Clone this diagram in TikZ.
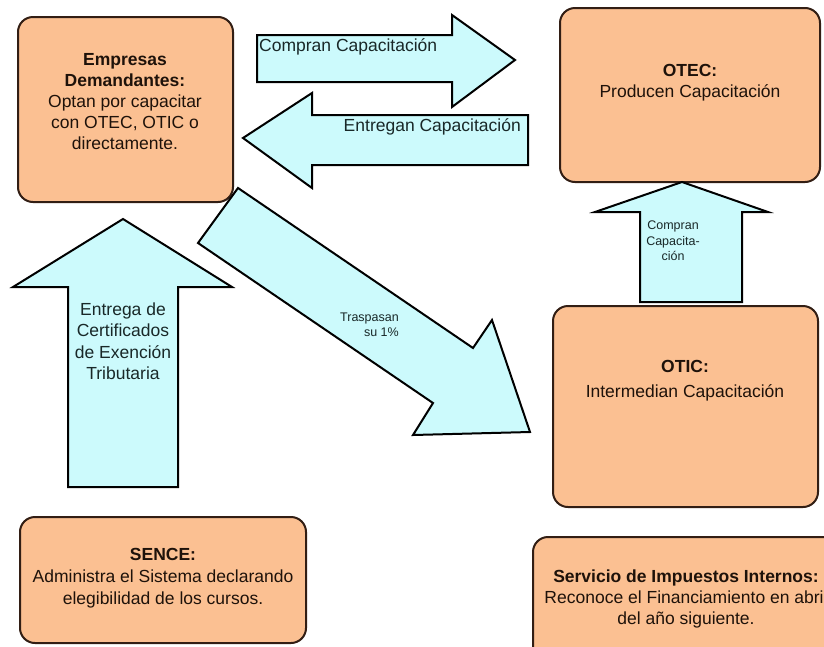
\documentclass[tikz,border=0pt]{standalone}
\usepackage{fontspec}
\setmainfont{Liberation Sans}
\definecolor{boxfill}{RGB}{251,192,146}
\definecolor{boxline}{RGB}{50,30,20}
\definecolor{arrfill}{RGB}{204,250,252}
\definecolor{boxtext}{RGB}{30,18,10}
\definecolor{arrtext}{RGB}{25,40,40}
\tikzset{
  orgbox/.style={draw=boxline, fill=boxfill, line width=2pt, rounded corners=15pt},
  blockarrow/.style={draw=black, fill=arrfill, line width=2pt, line join=miter},
  boxlabel/.style={align=center, text=boxtext, font=\fontsize{17.5}{21}\selectfont, inner sep=0pt},
  arrlabel/.style={text=arrtext, font=\fontsize{17.5}{21.5}\selectfont, inner sep=0pt},
  smalllabel/.style={text=arrtext, font=\fontsize{12.5}{15.5}\selectfont, inner sep=0pt},
}
\begin{document}
\begin{tikzpicture}[x=1pt,y=-1pt]
\useasboundingbox (0,0) rectangle (824,646);
\clip (0,0) rectangle (824,646);
\fill[white] (0,0) rectangle (824,646);

% boxes
\draw[orgbox] (18,17) rectangle (233,202);
\draw[orgbox] (560,8) rectangle (820,182);
\draw[orgbox] (553,306) rectangle (818,507);
\draw[orgbox] (20,517) rectangle (306,643);
\draw[orgbox] (533,537) rectangle (860,680);

% block arrows
\draw[blockarrow] (257,35) -- (452,35) -- (452,15) -- (515,60) -- (452,107) -- (452,82) -- (257,82) -- cycle;
\draw[blockarrow] (528,115) -- (312,115) -- (312,93) -- (243,138) -- (312,188) -- (312,165) -- (528,165) -- cycle;
\draw[blockarrow] (640,302) -- (640,212) -- (595,212) -- (682,182) -- (768,212) -- (742,212) -- (742,302) -- cycle;
\draw[blockarrow] (68,487) -- (68,287) -- (13,287) -- (123,219) -- (232,287) -- (178,287) -- (178,487) -- cycle;
\draw[blockarrow] (238,188) -- (473,348) -- (492,320) -- (530,432) -- (413,435) -- (433,403) -- (198,243) -- cycle;

% box texts
\node[boxlabel] (emp) at (125,102) {\textbf{Empresas}\\\textbf{Demandantes:}\\Optan por capacitar\\con OTEC, OTIC o\\directamente.};
\node[boxlabel] (otec) at (690,83) {\textbf{OTEC:}\\Producen Capacitación};
\node[boxlabel, font=\fontsize{17.5}{25}\selectfont] (otic) at (685,381) {\textbf{OTIC:}\\Intermedian Capacitación};
\node[boxlabel, font=\fontsize{17.5}{22}\selectfont] (sence) at (163,578) {\textbf{SENCE:}\\Administra el Sistema declarando\\elegibilidad de los cursos.};
\node[boxlabel] (sii) at (686,599) {\textbf{Servicio de Impuestos Internos:}\\Reconoce el Financiamiento en abril\\del año siguiente.};

% arrow texts
\node[arrlabel, anchor=west] (compran) at (259,47) {Compran Capacitación};
\node[arrlabel, anchor=east] (entregan) at (521,127) {Entregan Capacitación};
\node[arrlabel, align=center] (cert) at (123,341) {Entrega de\\Certificados\\de Exención\\Tributaria};
\node[smalllabel, align=center] (compran2) at (673,241) {Compran\\Capacita-\\ción};
\node[smalllabel, align=right, anchor=east] (trasp) at (399,325) {Traspasan\\su 1\%};
\end{tikzpicture}
\end{document}
